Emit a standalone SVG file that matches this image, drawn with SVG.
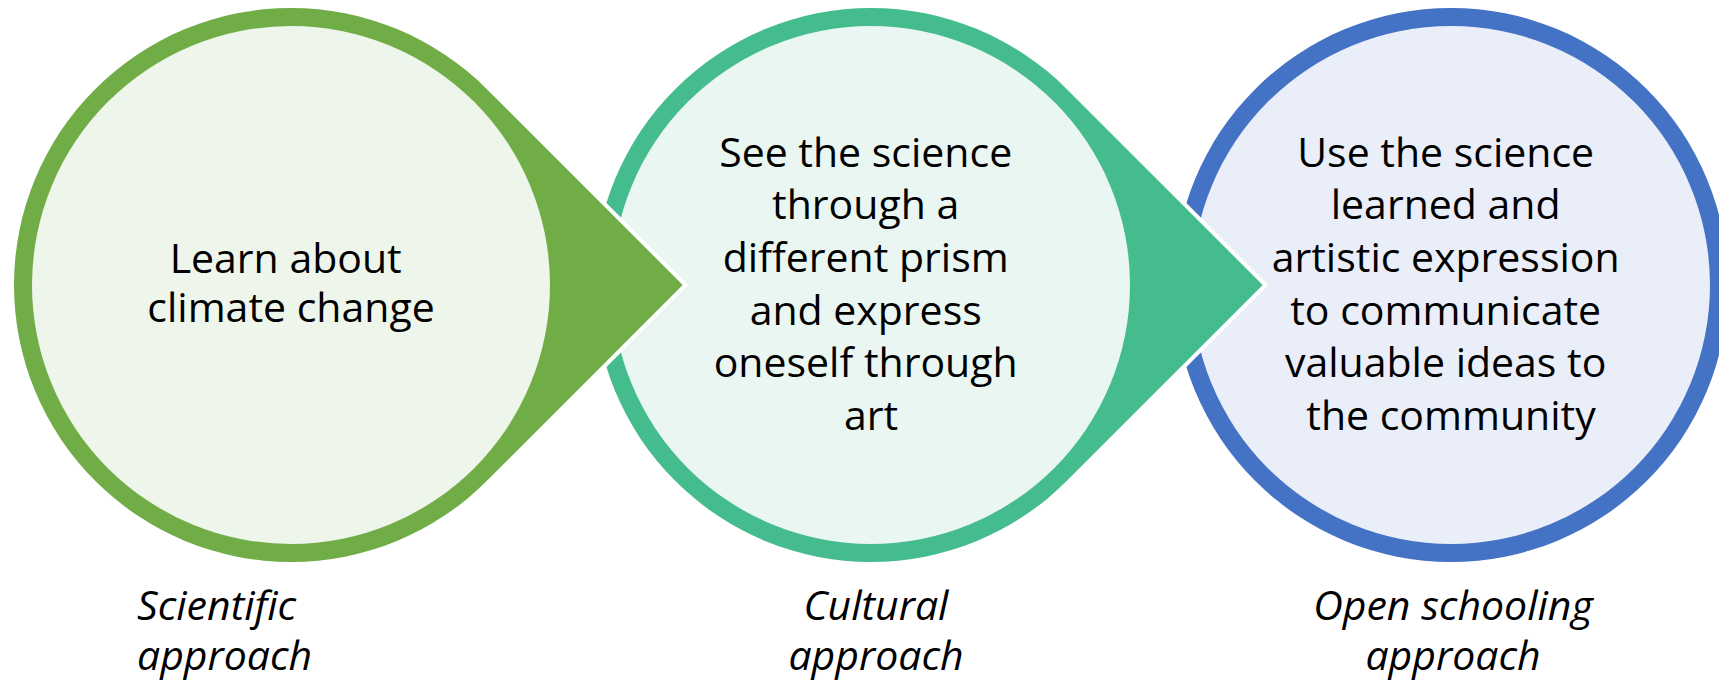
<svg xmlns="http://www.w3.org/2000/svg" width="1719" height="686" viewBox="0 0 1719 686">
  <defs>
    <style>
      .body { font-family: "Open Sans", "Liberation Sans", sans-serif; font-size: 41px; fill: #000000; text-anchor: middle; }
      .label { font-family: "Open Sans", "Liberation Sans", sans-serif; font-size: 41px; font-style: italic; fill: #000000; }
      .drop { paint-order: stroke; stroke: #FFFFFF; stroke-width: 8; stroke-linejoin: miter; stroke-miterlimit: 10; }
    </style>
  </defs>
  <rect width="1719" height="686" fill="#FFFFFF"/>

  <!-- Open schooling stage (drawn first so the cultural tip sits over it) -->
  <g id="node-open-schooling">
    <circle cx="1451" cy="285" r="277" fill="#4472C4" class="drop"/>
    <circle cx="1451" cy="285" r="259" fill="#E9EEF8"/>
    <text class="body">
      <tspan x="1451" y="166.5">Use the science</tspan>
      <tspan x="1451" y="219.2">learned and</tspan>
      <tspan x="1451" y="271.9">artistic expression</tspan>
      <tspan x="1451" y="324.6">to communicate</tspan>
      <tspan x="1451" y="377.3">valuable ideas to</tspan>
      <tspan x="1451" y="430">the community</tspan>
    </text>
  </g>

  <!-- Cultural stage: teardrop pointing right -->
  <g id="node-cultural">
    <path class="drop" fill="#45BC8E" d="M1066.87 89.13 L1262.7 285 L1066.87 480.87 A277 277 0 1 1 1066.87 89.13 Z"/>
    <circle cx="871" cy="285" r="259" fill="#EAF6F1"/>
    <text class="body">
      <tspan x="871" y="166.5">See the science</tspan>
      <tspan x="871" y="219.2">through a</tspan>
      <tspan x="871" y="271.9">different prism</tspan>
      <tspan x="871" y="324.6">and express</tspan>
      <tspan x="871" y="377.3">oneself through</tspan>
      <tspan x="871" y="430">art</tspan>
    </text>
  </g>

  <!-- Scientific stage: teardrop pointing right -->
  <g id="node-scientific">
    <path class="drop" fill="#70AD47" d="M486.87 89.13 L682.7 285 L486.87 480.87 A277 277 0 1 1 486.87 89.13 Z"/>
    <circle cx="291" cy="285" r="259" fill="#EEF5EA"/>
    <text class="body">
      <tspan x="291" y="273">Learn about</tspan>
      <tspan x="291" y="322">climate change</tspan>
    </text>
  </g>

  <!-- Stage captions -->
  <g id="captions">
    <text class="label" x="137" y="620">Scientific</text>
    <text class="label" x="137" y="670">approach</text>
    <text class="label" x="876" y="620" text-anchor="middle">Cultural</text>
    <text class="label" x="876" y="670" text-anchor="middle">approach</text>
    <text class="label" x="1453" y="620" text-anchor="middle">Open schooling</text>
    <text class="label" x="1453" y="670" text-anchor="middle">approach</text>
  </g>

  <g id="connectors"></g>
</svg>
